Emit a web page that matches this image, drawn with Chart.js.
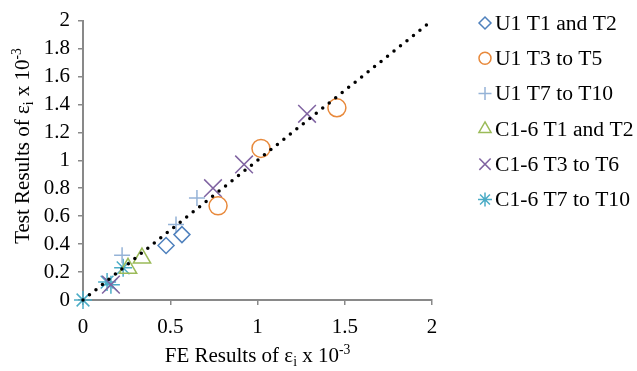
<!DOCTYPE html>
<html>
<head>
<meta charset="utf-8">
<script src="https://cdn.jsdelivr.net/npm/chart.js@4"></script>
<style>
  html, body { margin: 0; padding: 0; background: #fff; }
</style>
</head>
<body>
<canvas id="myChart" width="637" height="371"></canvas>
<script>
// series labels, as in the legend
const seriesNames = ['U1 T1 and T2', 'U1 T3 to T5', 'U1 T7 to T10', 'C1-6 T1 and T2', 'C1-6 T3 to T6', 'C1-6 T7 to T10'];

// FE results (x) and test results (y), strain x 10^-3
const u1T1T2_fe   = [0.476, 0.567];
const u1T1T2_test = [0.39, 0.468];
const u1T3T5_fe   = [0.774, 1.02, 1.455];
const u1T3T5_test = [0.674, 1.085, 1.376];
const u1T7T10_fe   = [0.224, 0.533, 0.653];
const u1T7T10_test = [0.32, 0.54, 0.73];
const c16T1T2_fe   = [0.258, 0.338];
const c16T1T2_test = [0.227, 0.30];
const c16T3T6_fe   = [0.16, 0.745, 0.923, 1.284];
const c16T3T6_test = [0.11, 0.80, 0.97, 1.333];
const c16T7T10_fe   = [0, 0.138, 0.16, 0.23];
const c16T7T10_test = [0, 0.128, 0.11, 0.23];

// 1:1 reference line
const lineX = [0, 2];
const lineY = [0, 2];

const xTicks = [0, 0.5, 1, 1.5, 2];
const yTicks = [0, 0.2, 0.4, 0.6, 0.8, 1, 1.2, 1.4, 1.6, 1.8, 2];

const FONT = '"Liberation Serif", "Times New Roman", serif';
const AXIS = '#898989';

function pts(xs, ys) {
  return xs.map((x, i) => ({ x: x, y: ys[i] }));
}

const styles = [
  { color: '#4f81bd', shape: 'rectRot',  r: 8,  lr: 6 },
  { color: '#e8893b', shape: 'circle',   r: 9,  lr: 6 },
  { color: '#95b3d7', shape: 'cross',    r: 8,  lr: 6.5 },
  { color: '#9bbb59', shape: 'triangle', r: 10, lr: 7 },
  { color: '#8064a2', shape: 'crossRot', r: 12.5, lr: 8 },
  { color: '#4bacc6', shape: 'star',     r: 9,  lr: 7 }
];

const seriesData = [
  pts(u1T1T2_fe, u1T1T2_test),
  pts(u1T3T5_fe, u1T3T5_test),
  pts(u1T7T10_fe, u1T7T10_test),
  pts(c16T1T2_fe, c16T1T2_test),
  pts(c16T3T6_fe, c16T3T6_test),
  pts(c16T7T10_fe, c16T7T10_test)
];

const datasets = seriesData.map((d, i) => ({
  type: 'scatter',
  label: seriesNames[i],
  data: d,
  pointStyle: styles[i].shape,
  pointRadius: styles[i].r,
  pointBorderWidth: 1.5,
  borderColor: styles[i].color,
  backgroundColor: 'rgba(0,0,0,0)',
  clip: false,
  order: 1
}));

datasets.push({
  type: 'line',
  label: 'line',
  data: pts(lineX, lineY),
  borderColor: '#000',
  borderWidth: 3.5,
  borderDash: [0, 8.3],
  borderCapStyle: 'round',
  pointRadius: 0,
  fill: false,
  clip: false,
  order: 0
});

// text with a subscript / superscript part
function drawRich(ctx, parts, size) {
  let w = 0;
  parts.forEach(p => {
    ctx.font = (p.sub || p.sup ? size * 0.65 : size) + 'px ' + FONT;
    p.w = ctx.measureText(p.t).width;
    w += p.w;
  });
  let x = -w / 2;
  parts.forEach(p => {
    ctx.font = (p.sub || p.sup ? size * 0.65 : size) + 'px ' + FONT;
    let dy = p.sub ? size * 0.2 : (p.sup ? -size * 0.38 : 0);
    ctx.fillText(p.t, x, dy);
    x += p.w;
  });
}

const titlePlugin = {
  id: 'axisTitles',
  afterDraw(chart) {
    const ctx = chart.ctx;
    const a = chart.chartArea;
    ctx.save();
    ctx.fillStyle = '#000';
    ctx.textBaseline = 'alphabetic';
    ctx.textAlign = 'left';
    ctx.translate((a.left + a.right) / 2, 362);
    drawRich(ctx, [{ t: 'FE Results of ε' }, { t: 'i', sub: true }, { t: ' x 10' }, { t: '-3', sup: true }], 21);
    ctx.restore();

    ctx.save();
    ctx.fillStyle = '#000';
    ctx.textAlign = 'left';
    ctx.translate(29, 146);
    ctx.rotate(-Math.PI / 2);
    drawRich(ctx, [{ t: 'Test Results of ε' }, { t: 'i', sub: true }, { t: ' x 10' }, { t: '-3', sup: true }], 21);
    ctx.restore();
  }
};

const legendPlugin = {
  id: 'sideLegend',
  afterDraw(chart) {
    const ctx = chart.ctx;
    ctx.save();
    chart.data.datasets.forEach((ds, i) => {
      if (ds.type === 'line') return;
      const y = 23 + i * 35.3;
      ctx.strokeStyle = styles[i].color;
      ctx.fillStyle = 'rgba(0,0,0,0)';
      ctx.lineWidth = 1.5;
      Chart.helpers.drawPoint(ctx, { pointStyle: styles[i].shape, radius: styles[i].lr, rotation: 0, borderWidth: 1.5 }, 485, y);
      ctx.fillStyle = '#000';
      ctx.font = '21.6px ' + FONT;
      ctx.textBaseline = 'middle';
      ctx.textAlign = 'left';
      ctx.fillText(ds.label, 495, y + 1);
    });
    ctx.restore();
  }
};

const config = {
  data: { datasets: datasets },
  options: {
    responsive: false,
    animation: false,
    devicePixelRatio: 1,
    layout: { padding: { top: 18, right: 205, bottom: 0, left: 0 } },
    plugins: {
      legend: { display: false },
      tooltip: { enabled: false }
    },
    scales: {
      x: {
        type: 'linear',
        min: 0,
        max: 2,
        afterFit: s => { s.height = 71; },
        afterBuildTicks: s => { s.ticks = xTicks.map(v => ({ value: v })); },
        ticks: {
          color: '#000',
          padding: 10,
          maxRotation: 0,
          autoSkip: false,
          font: { family: FONT, size: 21 },
          callback: v => String(v)
        },
        grid: { drawOnChartArea: false, drawTicks: true, tickLength: 5, color: AXIS, lineWidth: 1.5 },
        border: { color: AXIS, width: 2 }
      },
      y: {
        type: 'linear',
        min: 0,
        max: 2,
        afterFit: s => { s.width = 83; },
        afterBuildTicks: s => { s.ticks = yTicks.map(v => ({ value: v })); },
        ticks: {
          color: '#000',
          padding: 8,
          autoSkip: false,
          font: { family: FONT, size: 21 },
          callback: v => String(+v.toFixed(1))
        },
        grid: { drawOnChartArea: false, drawTicks: true, tickLength: 5, color: AXIS, lineWidth: 1.5 },
        border: { color: AXIS, width: 2 }
      }
    }
  },
  plugins: [titlePlugin, legendPlugin]
};

const myChart = new Chart(document.getElementById('myChart'), config);
</script>
</body>
</html>
